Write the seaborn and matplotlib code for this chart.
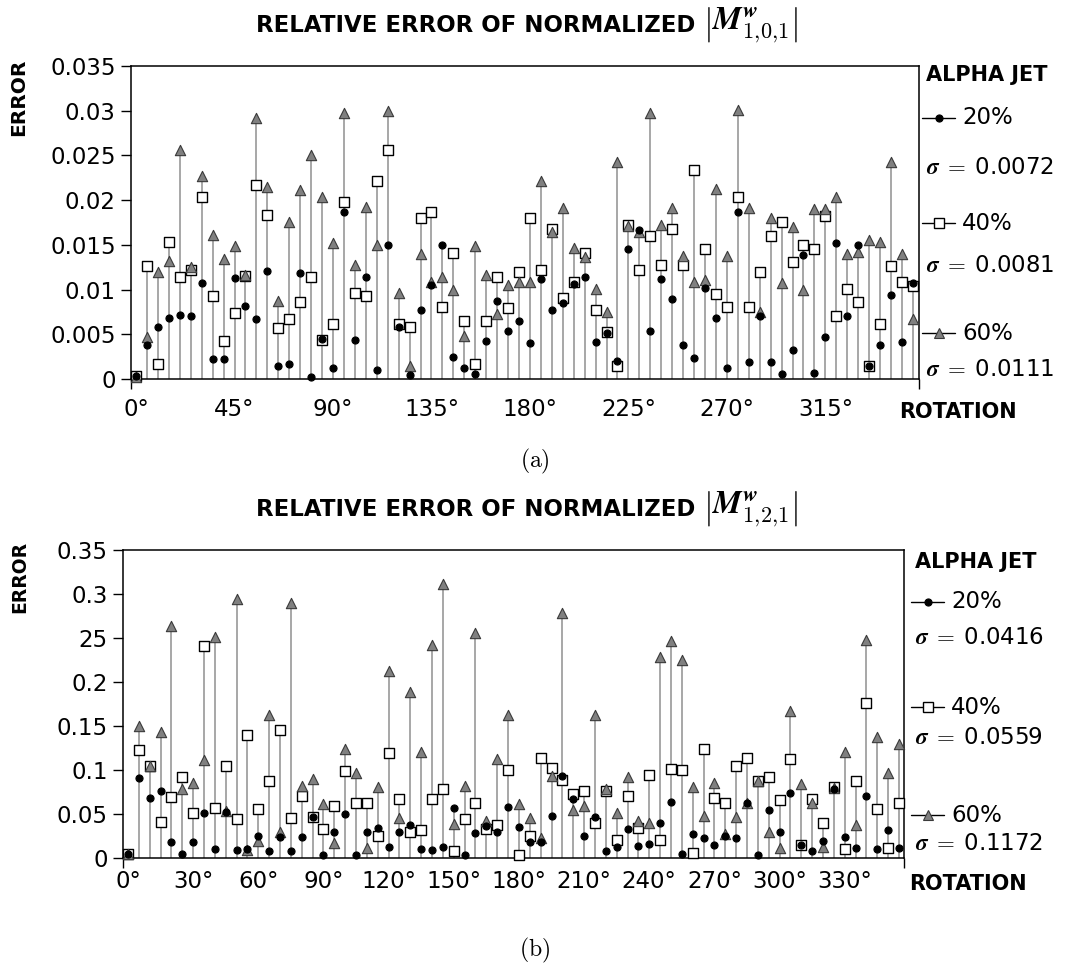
import numpy as np
import pandas as pd
import matplotlib
matplotlib.use("Agg")
import matplotlib.pyplot as plt
import seaborn as sns
from matplotlib.lines import Line2D

# ---------------- data ----------------
angles = list(range(0, 360, 5))
series_names = ["20%", "40%", "60%"]

top_20 = [0.0003, 0.0038, 0.0058, 0.0068, 0.0072, 0.0071, 0.0107, 0.0022, 0.0022, 0.0113,
          0.0082, 0.0067, 0.0121, 0.0014, 0.0017, 0.0118, 0.0002, 0.0045, 0.0012, 0.0187,
          0.0044, 0.0114, 0.0010, 0.0150, 0.0058, 0.0004, 0.0077, 0.0105, 0.0150, 0.0025,
          0.0012, 0.0006, 0.0042, 0.0087, 0.0054, 0.0065, 0.0040, 0.0112, 0.0077, 0.0085,
          0.0106, 0.0114, 0.0041, 0.0051, 0.0020, 0.0145, 0.0167, 0.0054, 0.0112, 0.0089,
          0.0038, 0.0023, 0.0102, 0.0068, 0.0012, 0.0187, 0.0019, 0.0071, 0.0019, 0.0006,
          0.0032, 0.0139, 0.0007, 0.0047, 0.0152, 0.0071, 0.0150, 0.0014, 0.0038, 0.0094,
          0.0041, 0.0107]
top_40 = [0.0003, 0.0126, 0.0017, 0.0153, 0.0114, 0.0122, 0.0204, 0.0093, 0.0043, 0.0074,
          0.0115, 0.0217, 0.0183, 0.0057, 0.0067, 0.0086, 0.0114, 0.0044, 0.0062, 0.0198,
          0.0096, 0.0093, 0.0221, 0.0256, 0.0062, 0.0058, 0.0180, 0.0187, 0.0081, 0.0141,
          0.0065, 0.0017, 0.0065, 0.0114, 0.0079, 0.0120, 0.0180, 0.0122, 0.0168, 0.0091,
          0.0109, 0.0141, 0.0077, 0.0052, 0.0015, 0.0172, 0.0122, 0.0160, 0.0128, 0.0168,
          0.0127, 0.0234, 0.0145, 0.0095, 0.0081, 0.0204, 0.0081, 0.0120, 0.0160, 0.0176,
          0.0131, 0.0150, 0.0145, 0.0182, 0.0071, 0.0101, 0.0086, 0.0014, 0.0062, 0.0126,
          0.0109, 0.0104]
top_60 = [0.0002, 0.0047, 0.0120, 0.0132, 0.0256, 0.0125, 0.0227, 0.0161, 0.0134, 0.0149,
          0.0116, 0.0292, 0.0215, 0.0087, 0.0176, 0.0211, 0.0251, 0.0203, 0.0152, 0.0297,
          0.0128, 0.0192, 0.0150, 0.0300, 0.0096, 0.0014, 0.0140, 0.0108, 0.0114, 0.0100,
          0.0048, 0.0149, 0.0116, 0.0073, 0.0105, 0.0109, 0.0108, 0.0221, 0.0164, 0.0191,
          0.0146, 0.0136, 0.0101, 0.0075, 0.0243, 0.0171, 0.0164, 0.0297, 0.0172, 0.0191,
          0.0137, 0.0109, 0.0111, 0.0213, 0.0137, 0.0301, 0.0191, 0.0075, 0.0180, 0.0107,
          0.0170, 0.0099, 0.0190, 0.0190, 0.0203, 0.0140, 0.0142, 0.0155, 0.0153, 0.0243,
          0.0140, 0.0067]

bot_20 = [0.004, 0.091, 0.068, 0.076, 0.018, 0.004, 0.018, 0.051, 0.010, 0.052,
          0.009, 0.010, 0.025, 0.0075, 0.024, 0.0075, 0.024, 0.047, 0.003, 0.029,
          0.050, 0.003, 0.030, 0.034, 0.012, 0.030, 0.038, 0.010, 0.009, 0.013,
          0.057, 0.003, 0.028, 0.036, 0.030, 0.058, 0.035, 0.018, 0.018, 0.048,
          0.093, 0.067, 0.025, 0.047, 0.0075, 0.013, 0.033, 0.014, 0.016, 0.040,
          0.064, 0.004, 0.027, 0.023, 0.015, 0.025, 0.023, 0.062, 0.003, 0.055,
          0.030, 0.074, 0.015, 0.0075, 0.019, 0.078, 0.024, 0.011, 0.070, 0.010,
          0.032, 0.011]
bot_40 = [0.005, 0.123, 0.105, 0.041, 0.069, 0.092, 0.051, 0.241, 0.057, 0.104,
          0.044, 0.140, 0.056, 0.088, 0.146, 0.045, 0.070, 0.047, 0.033, 0.059,
          0.099, 0.063, 0.0625, 0.025, 0.119, 0.067, 0.029, 0.032, 0.067, 0.078,
          0.0075, 0.044, 0.0625, 0.033, 0.038, 0.100, 0.003, 0.025, 0.114, 0.102,
          0.089, 0.073, 0.076, 0.040, 0.076, 0.020, 0.070, 0.034, 0.094, 0.021,
          0.101, 0.100, 0.006, 0.124, 0.068, 0.0625, 0.104, 0.114, 0.087, 0.092,
          0.066, 0.112, 0.015, 0.067, 0.040, 0.081, 0.010, 0.087, 0.176, 0.056,
          0.011, 0.063]
bot_60 = [0.004, 0.150, 0.105, 0.143, 0.264, 0.078, 0.085, 0.111, 0.251, 0.053,
          0.294, 0.009, 0.019, 0.163, 0.029, 0.290, 0.082, 0.090, 0.061, 0.017,
          0.124, 0.097, 0.011, 0.081, 0.213, 0.046, 0.189, 0.121, 0.242, 0.311,
          0.039, 0.082, 0.256, 0.042, 0.112, 0.163, 0.061, 0.045, 0.023, 0.093,
          0.278, 0.054, 0.059, 0.162, 0.078, 0.051, 0.092, 0.042, 0.040, 0.228,
          0.247, 0.225, 0.081, 0.048, 0.085, 0.027, 0.047, 0.063, 0.088, 0.030,
          0.011, 0.167, 0.084, 0.0625, 0.013, 0.080, 0.121, 0.038, 0.248, 0.1375,
          0.097, 0.129]

top_sigmas = ["0.0072", "0.0081", "0.0111"]
bot_sigmas = ["0.0416", "0.0559", "0.1172"]

top_xticks = [0, 45, 90, 135, 180, 225, 270, 315]
bot_xticks = [0, 30, 60, 90, 120, 150, 180, 210, 240, 270, 300, 330]
top_yticks = [0, 0.005, 0.01, 0.015, 0.02, 0.025, 0.03, 0.035]
top_yticklabels = ["0", "0.005", "0.01", "0.015", "0.02", "0.025", "0.03", "0.035"]
bot_yticks = [0, 0.05, 0.1, 0.15, 0.2, 0.25, 0.3, 0.35]
bot_yticklabels = ["0", "0.05", "0.1", "0.15", "0.2", "25", "0.3", "0.35"]

# ---------------- style ----------------
sns.set_theme(style="white")
plt.rcParams["font.family"] = ["DejaVu Sans"]
plt.rcParams["mathtext.fontset"] = "cm"
for k in ["text.color", "axes.labelcolor", "xtick.color", "ytick.color", "axes.edgecolor"]:
    plt.rcParams[k] = "black"

W, H = 1065, 968
fig = plt.figure(figsize=(W / 100, H / 100), dpi=100)


def fx(px):
    return px / W


def fy(py):
    return 1 - py / H


marker_style = {
    "20%": dict(marker="o", color="black", edgecolor="black", s=26, lw=0.8, z=5),
    "40%": dict(marker="s", color="white", edgecolor="black", s=48, lw=1.0, z=3),
    "60%": dict(marker="^", color="#808080", edgecolor="#3a3a3a", s=55, lw=0.8, z=4),
}
draw_order = ["40%", "60%", "20%"]


def panel(rect, vals, yticks, yticklabels, ymax, xticks, xlim, tickpad):
    ax = fig.add_axes(rect)
    df = pd.DataFrame({
        "angle": np.tile(angles, 3),
        "value": np.concatenate(vals),
        "series": np.repeat(series_names, len(angles)),
    })
    top = df.groupby("angle")["value"].max()
    ax.vlines(top.index, 0, top.values, color="#a0a0a0", lw=1.3, zorder=2)
    for name in draw_order:
        st = marker_style[name]
        sub = df[df["series"] == name]
        sns.scatterplot(data=sub, x="angle", y="value", ax=ax, marker=st["marker"],
                        color=st["color"], edgecolor=st["edgecolor"], s=st["s"],
                        linewidth=st["lw"], zorder=st["z"], clip_on=False, legend=False)
    ax.set_xlim(*xlim)
    ax.set_ylim(0, ymax)
    ax.set_yticks(yticks)
    ax.set_yticklabels(yticklabels, fontsize=16.5)
    ax.set_xticks(xticks)
    ax.set_xticklabels([f"{d}°" for d in xticks], fontsize=16.5)
    ax.set_xticks([xlim[0], xlim[1]], minor=True)
    ax.tick_params(axis="y", direction="out", length=7, width=1, pad=4, left=True, colors="black")
    ax.tick_params(axis="x", which="major", length=0, pad=tickpad, bottom=True, colors="black")
    ax.tick_params(axis="x", which="minor", direction="out", length=7, width=1, bottom=True)
    ax.set_xlabel("")
    ax.set_ylabel("")
    for sp in ax.spines.values():
        sp.set_color("black")
        sp.set_linewidth(1.1)
        sp.set_visible(True)
    return ax


# ---------------- top panel ----------------
ax1 = panel([fx(131), fy(379), fx(919) - fx(131), fy(66) - fy(379)],
            [top_20, top_40, top_60], top_yticks, top_yticklabels, 0.035,
            top_xticks, (-2.3, 357.8), 14)

# ---------------- bottom panel ----------------
ax2 = panel([fx(123), fy(858), fx(904) - fx(123), fy(550) - fy(858)],
            [bot_20, bot_40, bot_60], bot_yticks, bot_yticklabels, 0.35,
            bot_xticks, (-2.3, 357.3), 9)

# ---------------- titles / labels ----------------
for ytitle, sub in [(25, ("1", "0", "1")), (509, ("1", "2", "1"))]:
    fig.text(fx(695), fy(ytitle), "RELATIVE ERROR OF NORMALIZED",
             ha="right", va="center", fontsize=16.5, fontweight="bold")
    subtxt = r"\mathbf{" + sub[0] + r"}{,}\mathbf{" + sub[1] + r"}{,}\mathbf{" + sub[2] + r"}"
    fig.text(fx(703), fy(ytitle - 1),
             r"$\left|\mathbfit{M}^{\mathbfit{w}}_{" + subtxt + r"}\right|$",
             ha="left", va="center", fontsize=23)

fig.text(fx(19), fy(97), "ERROR", rotation=90, ha="center", va="center",
         fontsize=14.5, fontweight="bold")
fig.text(fx(20), fy(577), "ERROR", rotation=90, ha="center", va="center",
         fontsize=13.5, fontweight="bold")

fig.text(fx(958), fy(412), "ROTATION", ha="center", va="center", fontsize=15, fontweight="bold")
fig.text(fx(968), fy(884), "ROTATION", ha="center", va="center", fontsize=15, fontweight="bold")

fig.text(fx(535), fy(461), r"$\mathrm{(a)}$", ha="center", va="center", fontsize=17)
fig.text(fx(535), fy(950), r"$\mathrm{(b)}$", ha="center", va="center", fontsize=17)


# ---------------- legends ----------------
def legend_block(x0, y_title, ys_handle, ys_sigma, sigmas):
    fig.text(fx(x0 + 2), fy(y_title), "ALPHA JET", ha="left", va="center",
             fontsize=15, fontweight="bold")
    for name, yh, ysg, sg in zip(series_names, ys_handle, ys_sigma, sigmas):
        st = marker_style[name]
        fig.add_artist(Line2D([fx(x0 - 2), fx(x0 + 31)], [fy(yh), fy(yh)], color="black", lw=1.0))
        fig.add_artist(Line2D([fx(x0 + 14.5)], [fy(yh)], marker=st["marker"], markersize=np.sqrt(st["s"]),
                              markerfacecolor=st["color"], markeredgecolor=st["edgecolor"],
                              markeredgewidth=st["lw"], lw=0))
        fig.text(fx(x0 + 38), fy(yh), name, ha="left", va="center", fontsize=16.5)
        fig.text(fx(x0 + 2), fy(ysg), r"$\boldsymbol{\sigma}\;{=}\;$" + sg, ha="left", va="center",
                 fontsize=16.5)


legend_block(924, 75, [118, 223, 333], [167, 265, 370], top_sigmas)
legend_block(913, 562, [602, 707, 815], [637, 738, 843], bot_sigmas)

fig.savefig("out.png", dpi=100)
